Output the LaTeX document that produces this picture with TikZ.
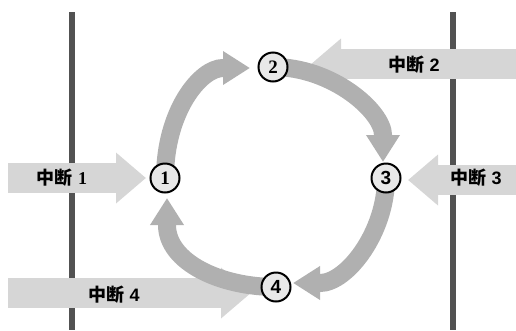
\documentclass[tikz,border=0pt]{standalone}
\usepackage{fontspec}
\setmainfont{Liberation Serif}
\newfontfamily\cjk{Noto Sans CJK SC}
\newfontfamily\sansf{Liberation Sans}
\usetikzlibrary{arrows.meta,backgrounds}
\begin{document}
\begin{tikzpicture}[x=1pt,y=-1pt,
  bar/.style={line width=6pt, draw=black!68},
  hband/.style={line width=30pt, draw=black!16, -{Triangle[length=30pt,width=49pt]}},
  ring/.style={line width=18pt, draw=black!31, -{Triangle[length=27pt,width=32pt]}},
  stage/.style={circle, draw=black, line width=2pt, fill=black!9, minimum size=29pt, inner sep=0pt, font=\fontsize{19}{19}\selectfont\bfseries},
  lbl/.style={inner sep=0pt, font=\fontsize{18}{18}\selectfont\bfseries}
]
\useasboundingbox (0,0) rectangle (516,330);

% stages
\node[stage] (c1) at (165,178) {1};
\node[stage] (c2) at (273,67) {2};
\node[stage] (c3) at (386,178) {\sansf 3};
\node[stage] (c4) at (276,287) {\sansf 4};

% free ends
\coordinate (s1) at (8,178);   \coordinate (h1) at (146,178);
\coordinate (s2) at (516,64);  \coordinate (h2) at (311,64);
\coordinate (s3) at (516,180); \coordinate (h3) at (408,180);
\coordinate (s4) at (8,293);   \coordinate (h4) at (251,293);
\coordinate (t12) at (250,68);
\coordinate (t23) at (383,162);
\coordinate (t34) at (293,283);
\coordinate (t41) at (167,198);

\begin{scope}[on background layer]
  \draw[bar] (71.5,12) -- (71.5,330);
  \draw[bar] (452.5,12) -- (452.5,330);
  \draw[hband] (s1) -- (h1);
  \draw[hband] (s2) -- (h2);
  \draw[hband] (s3) -- (h3);
  \draw[hband] (s4) -- (h4);
  \draw[ring] (c1.center) .. controls (165,112) and (200,68) .. (223,68) -- (t12);
  \draw[ring] (c2.center) .. controls (333,67) and (383,112) .. (383,135) -- (t23);
  \draw[ring] (c3.center) .. controls (386,232) and (347,283) .. (320,283) -- (t34);
  \draw[ring] (c4.center) .. controls (220,287) and (167,262) .. (167,225) -- (t41);
\end{scope}

% labels
\node[lbl] (l1) at (62,178) {\cjk 中断\hspace{0.3em}{\rmfamily\bfseries 1}};
\node[lbl] (l2) at (414,65) {\cjk 中断\hspace{0.3em}{\sansf\bfseries 2}};
\node[lbl] (l3) at (476,178) {\cjk 中断\hspace{0.3em}{\sansf\bfseries 3}};
\node[lbl] (l4) at (114,295) {\cjk 中断\hspace{0.3em}{\sansf\bfseries 4}};
\end{tikzpicture}
\end{document}
